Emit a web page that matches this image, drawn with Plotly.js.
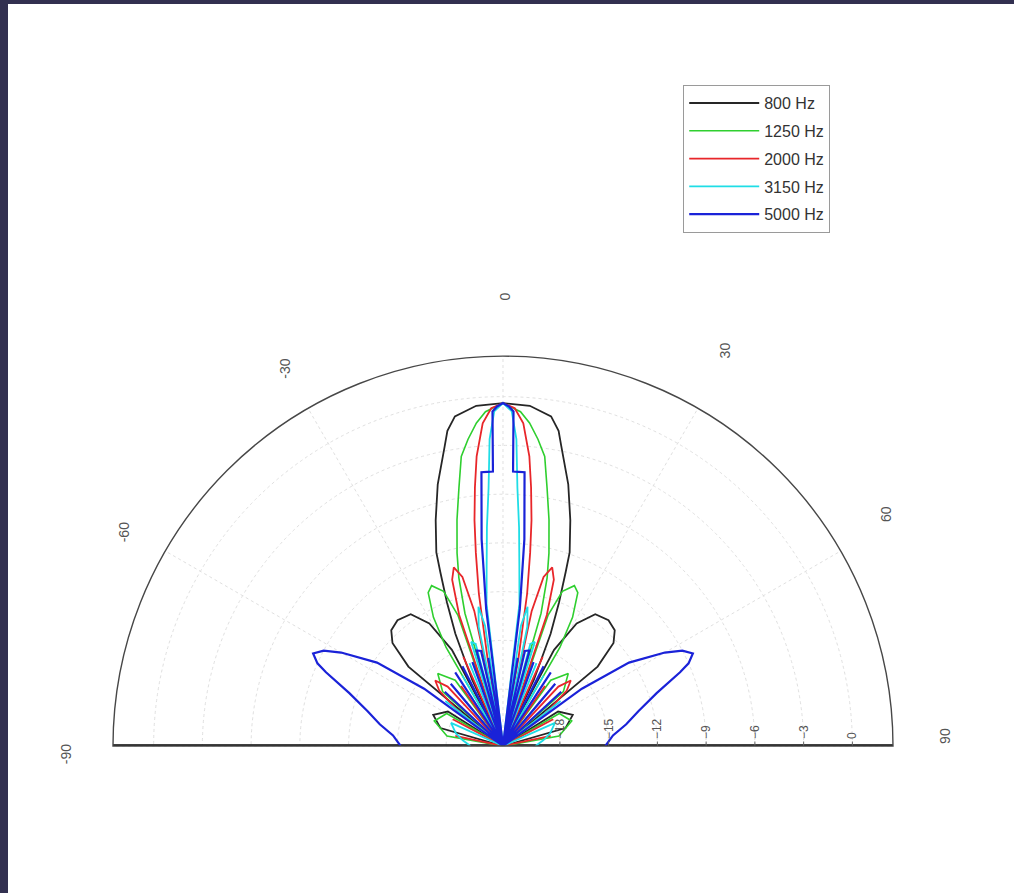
<!DOCTYPE html>
<html><head><meta charset="utf-8">
<script src="https://cdn.plot.ly/plotly-3.0.1.min.js"></script>
<style>
html,body{margin:0;padding:0;background:#323050;overflow:hidden;width:1014px;height:893px}
#plot{position:absolute;left:8px;top:4px;width:1006px;height:889px;background:#fff}
</style>
</head><body><div id="plot"></div>
<script>
// Radial scale (dB) and ticks
const rMin = -21.5;
const rMax = 2.5;
const radTicks = [-18, -15, -12, -9, -6, -3, 0];
const angTicks = [-90, -60, -30, 0, 30, 60, 90];
const angLabels = ['-90', '-60', '-30', '0', '30', '60', '90'];

// Series names and colours
const names = ['800 Hz', '1250 Hz', '2000 Hz', '3150 Hz', '5000 Hz'];
const colors = ['#262626', '#2fcf2f', '#e8262a', '#1fdde6', '#1a22d8'];

// Half patterns (angle >= 0, degrees); pattern is symmetric
const th800 = [0, 4.5, 8.3, 10, 11, 14, 16.6, 19, 19.8, 21.3, 23, 25, 27, 28, 31, 35, 40, 44, 47, 50, 53, 58, 66, 74, 82, 90];
const r800  = [-0.4, -0.5, -1.0, -1.8, -2.7, -4.9, -7.0, -8.9, -10.1, -12.0, -14.0, -17.0, -21.5, -14.8, -12.7, -11.6, -11.4, -11.6, -12.2, -13.9, -21.5, -17.5, -16.8, -17.5, -21.5, -19.0];

const th1250 = [0, 3, 4.7, 6.5, 8.2, 9.7, 11.5, 13.4, 14.7, 16, 17.5, 19, 21, 24, 26, 28.4, 30, 32, 36, 42, 48, 53, 60, 70, 80, 90];
const r1250  = [-0.4, -0.9, -1.55, -2.5, -3.5, -5.4, -7.3, -9.3, -10.8, -13.0, -21.5, -13.0, -11.3, -10.7, -11.0, -12.5, -14.5, -21.5, -16.5, -15.5, -16.5, -21.5, -17.5, -17.0, -18.0, -21.5];

const th2000 = [0, 2, 3.6, 5.2, 6.2, 7.2, 8, 9, 10, 11, 12, 13.5, 15.4, 17, 18.5, 20, 24, 28, 35, 40, 43, 46, 49, 52, 55, 62, 70, 78, 90];
const r2000  = [-0.4, -0.7, -1.6, -3.6, -5.5, -7.5, -9.5, -12.0, -16.0, -21.5, -13.0, -10.8, -10.1, -10.8, -13.0, -21.5, -15.5, -21.5, -17.0, -21.5, -16.5, -15.7, -16.3, -18.0, -21.5, -18.0, -21.5, -18.5, -21.5];

const th3150 = [0, 1.5, 2.5, 3.2, 4.2, 5.2, 6.6, 7.5, 8.5, 10, 11.5, 13, 15, 17, 19, 22, 25, 30, 35, 40, 46, 52, 58, 66, 75, 82, 90];
const r3150  = [-0.4, -0.9, -2.6, -5.6, -8.0, -10.4, -12.7, -21.5, -14.0, -12.8, -14.0, -21.5, -15.0, -14.8, -21.5, -16.0, -21.5, -16.5, -21.5, -17.0, -21.5, -17.0, -21.5, -18.0, -18.5, -19.0, -19.5];

const th5000 = [0, 1, 1.8, 2.1, 3.3, 4.5, 5.9, 7, 8, 9.5, 11, 13, 15.5, 17, 20, 23, 27, 31, 33, 36, 40, 44, 47, 51, 54, 56.5, 60, 62, 64, 66, 67.4, 71, 75.6, 80, 84.5, 90];
const r5000  = [-0.4, -0.6, -0.9, -4.6, -4.6, -4.6, -8.7, -13.0, -21.5, -16.0, -21.5, -15.5, -15.4, -21.5, -16.0, -21.5, -16.0, -21.5, -16.1, -21.5, -16.5, -21.5, -16.6, -21.5, -15.5, -12.2, -10.0, -9.0, -8.5, -9.0, -9.7, -11.5, -12.9, -13.8, -14.7, -15.2];

const halfTheta = [th800, th1250, th2000, th3150, th5000];
const halfR = [r800, r1250, r2000, r3150, r5000];
const widths = [1.8, 1.6, 1.8, 1.8, 2.2];

// baseline across the diameter
const baseTheta = [-90, 0, 90];
const baseR = [rMax, rMin, rMax];

function mirror(th, r) {
  const t = [], v = [];
  for (let i = th.length - 1; i >= 1; i--) { t.push(-th[i]); v.push(r[i]); }
  for (let i = 0; i < th.length; i++) { t.push(th[i]); v.push(r[i]); }
  return {t, v};
}

const traces = [{
  type: 'scatterpolar', mode: 'lines', theta: baseTheta, r: baseR,
  line: {color: '#000', width: 3.5}, showlegend: false, hoverinfo: 'skip'
}];
names.forEach((n, i) => {
  const m = mirror(halfTheta[i], halfR[i]);
  traces.push({
    type: 'scatterpolar', mode: 'lines', name: n, legendgroup: 'g' + i,
    theta: m.t, r: m.v,
    line: {color: colors[i], width: widths[i]}
  });
});

const layout = {
  width: 1006, height: 889,
  margin: {l: 0, r: 0, t: 0, b: 0},
  paper_bgcolor: '#fff',
  font: {family: 'Liberation Sans, Arial, sans-serif', size: 12, color: '#444'},
  showlegend: true,
  legend: {
    x: 0.671, y: 0.909, xanchor: 'left', yanchor: 'top',
    bgcolor: '#fff', bordercolor: '#9a9a9a', borderwidth: 1.2,
    font: {size: 16, color: '#333'}, tracegroupgap: 4,
    itemwidth: 70
  },
  polar: {
    domain: {x: [0.10437, 0.87972], y: [0.16535, 0.60405]},
    sector: [0, 180],
    bgcolor: '#fff',
    angularaxis: {
      rotation: 90, direction: 'clockwise',
      tickmode: 'array', tickvals: angTicks, ticktext: angLabels,
      showline: true, linecolor: '#474747', linewidth: 1.4,
      showgrid: true, gridcolor: '#e0e0e0', griddash: 'dot', gridwidth: 1,
      ticks: 'outside', ticklen: 46, tickcolor: 'rgba(0,0,0,0)',
      tickangle: -90,
      tickfont: {size: 14, color: '#555'}
    },
    radialaxis: {
      range: [rMin, rMax], angle: 0, side: 'counterclockwise',
      tickmode: 'array', tickvals: radTicks,
      tickangle: -90,
      showline: false, showgrid: true, gridcolor: '#e0e0e0', griddash: 'dot', gridwidth: 1,
      ticks: 'outside', ticklen: 4, tickcolor: '#666',
      tickfont: {size: 12, color: '#555'}
    }
  }
};

Plotly.newPlot('plot', traces, layout, {displayModeBar: false, staticPlot: true});
</script></body></html>
